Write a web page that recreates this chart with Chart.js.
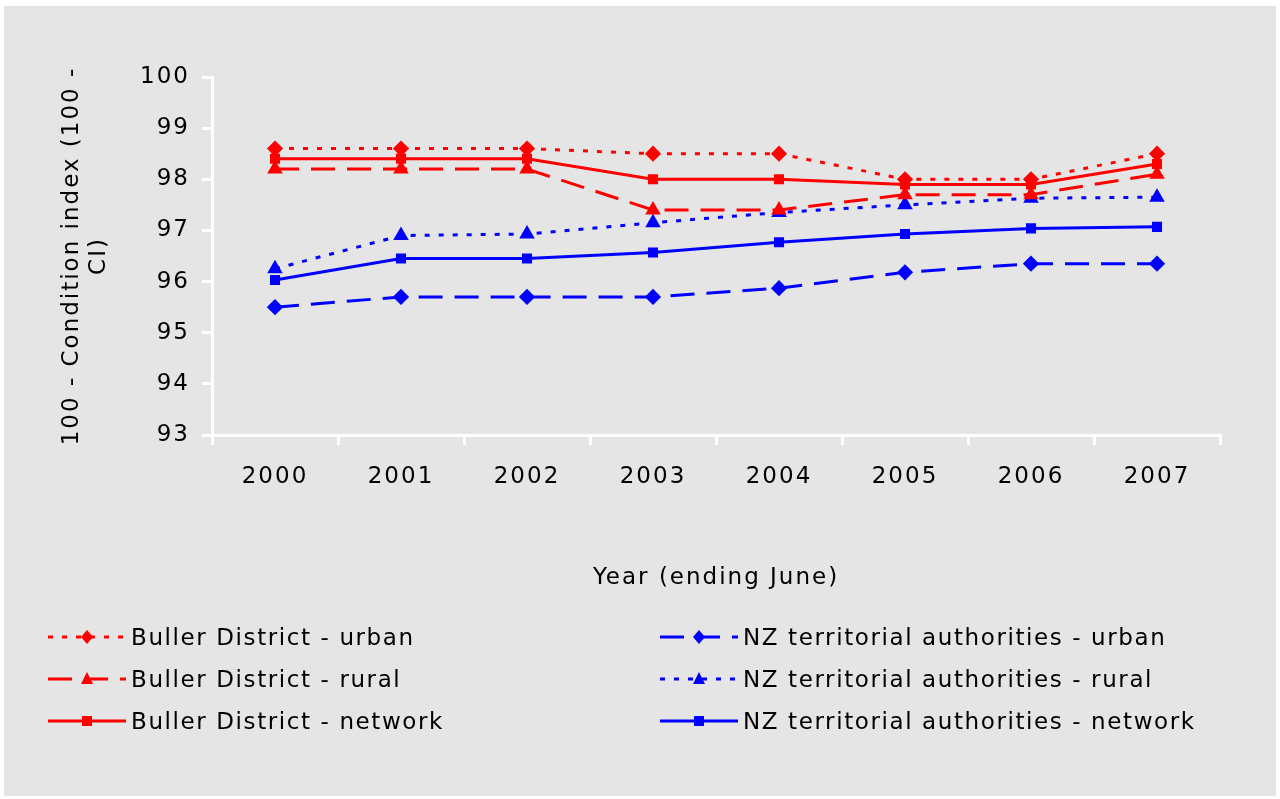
<!DOCTYPE html><html><head><meta charset="utf-8">
<script src="https://cdn.jsdelivr.net/npm/chart.js@4"></script>
<style>
body{margin:0;background:#fff;width:1280px;height:799px;overflow:hidden;font-family:"DejaVu Sans",sans-serif}
#panel{position:absolute;left:4px;top:6px;width:1272px;height:790px;background:#e5e5e5}
#c{position:absolute;left:0;top:0}
.lg{position:absolute;font-size:23px;letter-spacing:1.6px;color:#000;display:flex;align-items:center;height:30px}
.lg svg{margin-right:5px}
</style></head><body>
<div id="panel"></div>
<canvas id="c" width="1280" height="799"></canvas>
<div id="legend"></div>
<script>
const years=["2000","2001","2002","2003","2004","2005","2006","2007"];
const bullerUrban=[98.6,98.6,98.6,98.5,98.5,98.0,98.0,98.5];
const bullerRural=[98.2,98.2,98.2,97.4,97.4,97.7,97.7,98.1];
const bullerNetwork=[98.4,98.4,98.4,98.0,98.0,97.9,97.9,98.3];
const nzUrban=[95.5,95.7,95.7,95.7,95.87,96.18,96.35,96.35];
const nzRural=[96.25,96.9,96.93,97.15,97.35,97.5,97.63,97.65];
const nzNetwork=[96.03,96.45,96.45,96.57,96.77,96.93,97.04,97.07];
const RED='#ff0000',BLUE='#0000ff';
const DOT=[5,9],DASH=[24,12];
const series=[
 {label:"Buller District - urban",data:bullerUrban,c:RED,d:DOT,p:'rectRot'},
 {label:"Buller District - rural",data:bullerRural,c:RED,d:DASH,p:'triangle'},
 {label:"Buller District - network",data:bullerNetwork,c:RED,d:[],p:'rect'},
 {label:"NZ territorial authorities - urban",data:nzUrban,c:BLUE,d:DASH,p:'rectRot'},
 {label:"NZ territorial authorities - rural",data:nzRural,c:BLUE,d:DOT,p:'triangle'},
 {label:"NZ territorial authorities - network",data:nzNetwork,c:BLUE,d:[],p:'rect'}];
const F="'DejaVu Sans', sans-serif";
const spacing={id:'sp',beforeInit(c){c.ctx.letterSpacing='2px'},beforeDraw(c){c.ctx.letterSpacing='2px'}};
new Chart(document.getElementById('c'),{type:'line',
 data:{labels:years,datasets:series.map(s=>({label:s.label,data:s.data,borderColor:s.c,backgroundColor:s.c,borderDash:s.d,borderWidth:3,pointStyle:s.p,pointRadius:s.p==='rect'?5:6,tension:0}))},
 plugins:[spacing],
 options:{responsive:false,animation:false,devicePixelRatio:1,
  layout:{padding:{left:58,top:77,right:60,bottom:207}},
  plugins:{legend:{display:false},tooltip:{enabled:false}},
  scales:{
   x:{offset:true,grid:{display:true,drawOnChartArea:false,color:'#fff',lineWidth:3,tickLength:10,offset:true},border:{color:'#fff',width:3},
      ticks:{color:'#000',font:{family:F,size:23},padding:18},
      title:{display:true,text:'Year (ending June)',color:'#000',font:{family:F,size:23},padding:{top:4,bottom:0}},
      afterFit:s=>{s.height=157}},
   y:{min:93,max:100,grid:{display:true,drawOnChartArea:false,color:'#fff',lineWidth:3,tickLength:10},border:{color:'#fff',width:3},
      ticks:{stepSize:1,color:'#000',font:{family:F,size:23},padding:12},
      title:{display:true,text:['100 - Condition index (100 -','CI)'],color:'#000',font:{family:F,size:23},padding:0},
      afterFit:s=>{s.width=154}}
  }}});
const lg=document.getElementById('legend');
series.forEach((s,i)=>{
 const col=i<3?0:1,row=i%3;
 const x=col?660:48,y=622+row*42;
 const mk=s.p==='rect'?`<rect x="34" y="8" width="10" height="10" fill="${s.c}"/>`:s.p==='triangle'?`<polygon points="39,6 45,18 33,18" fill="${s.c}"/>`:`<polygon points="39,6 45,13 39,20 33,13" fill="${s.c}"/>`;
 const da=s.d.length?`stroke-dasharray="${s.d.join(',')}"`:'';
 lg.insertAdjacentHTML('beforeend',`<div class="lg" style="left:${x}px;top:${y}px"><svg width="78" height="26"><line x1="0" y1="13" x2="78" y2="13" stroke="${s.c}" stroke-width="3" ${da}/>${mk}</svg>${s.label}</div>`);
});
</script></body></html>
